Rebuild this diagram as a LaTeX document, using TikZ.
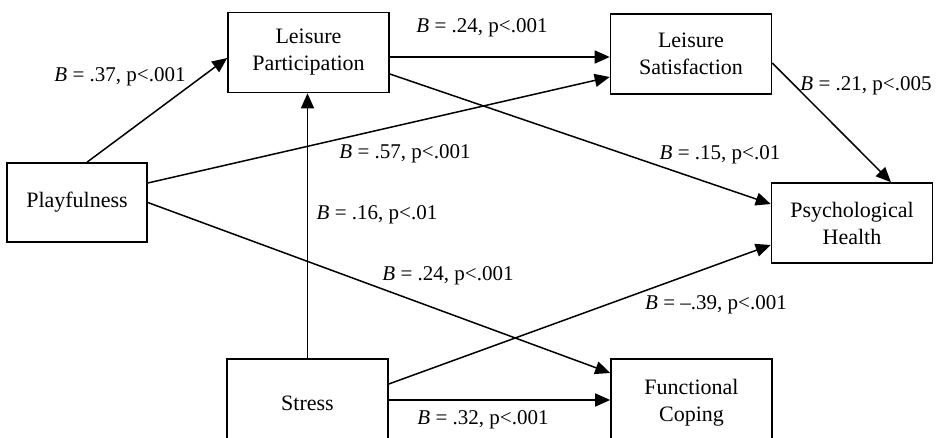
\documentclass[tikz,border=0pt]{standalone}
\usepackage{fontspec}
\setmainfont{Liberation Serif}
\usetikzlibrary{arrows.meta,calc}
\newcommand\Bcoef[1]{\textit{B} = #1}

\begin{document}
\begin{tikzpicture}[
        x=0.5pt, y=-0.5pt,
        var/.style={draw, line width=0.8pt, minimum width=80.5pt,
            minimum height=40pt, align=center, inner sep=2pt,
            font=\fontsize{11}{13.5}\selectfont},
        path line/.style={line width=0.75pt,
            -{Triangle[length=7.5pt,width=6.5pt]}},
        coef/.style={inner sep=0pt, font=\fontsize{10.5}{12}\selectfont},
    ]
    \useasboundingbox (0,0) rectangle (938,438);

    % variables
    \node[var, minimum width=70pt, minimum height=39.5pt] (play) at (77,202.5) {Playfulness};
    \node[var] (lp) at (308.5,52.5) {Leisure\\Participation};
    \node[var] (ls) at (691,54) {Leisure\\Satisfaction};
    \node[var] (ph) at (852,223) {Psychological\\Health};
    \node[var, minimum height=44pt] (stress) at (307.5,403) {Stress};
    \node[var, minimum height=44pt] (fc) at (691.5,403) {Functional\\Coping};

    % paths
    \draw[path line] ([xshift=5pt]play.north) -- ([yshift=-2.75pt]lp.west);
    \draw[path line] ([yshift=-2.25pt]lp.east) -- ([yshift=-2.25pt]lp.east -| ls.west);
    \draw[path line] ([yshift=9.75pt]play.east) -- ([yshift=-11.5pt]ls.west);
    \draw[path line] ([yshift=-10.75pt]lp.east) -- ([yshift=9.5pt]ph.west);
    \draw[path line] ([yshift=-4.5pt]ls.east) -- ([xshift=19.5pt]ph.north);
    \draw[path line] (play.east) -- ([yshift=15pt]fc.west);
    \draw[path line] (stress.north) -- (stress.north |- lp.south);
    \draw[path line] ([yshift=9.5pt]stress.east) -- ([yshift=-11pt]ph.west);
    \draw[path line] ([yshift=1.5pt]stress.east) -- ([yshift=1.5pt]stress.east -| fc.west);

    % coefficients
    \node[coef] (c37) at (120,77) {\Bcoef{.37, p<.001}};
    \node[coef] (c24a) at (482,28) {\Bcoef{.24, p<.001}};
    \node[coef] (c57) at (405,154) {\Bcoef{.57, p<.001}};
    \node[coef] (c21) at (866,86) {\Bcoef{.21, p<.005}};
    \node[coef] (c15) at (720,155) {\Bcoef{.15, p<.01}};
    \node[coef] (c16) at (377,215) {\Bcoef{.16, p<.01}};
    \node[coef] (c24b) at (448,276) {\Bcoef{.24, p<.001}};
    \node[coef] (c39) at (716,305) {\Bcoef{--.39, p<.001}};
    \node[coef] (c32) at (483,420) {\Bcoef{.32, p<.001}};

\end{tikzpicture}
\end{document}
